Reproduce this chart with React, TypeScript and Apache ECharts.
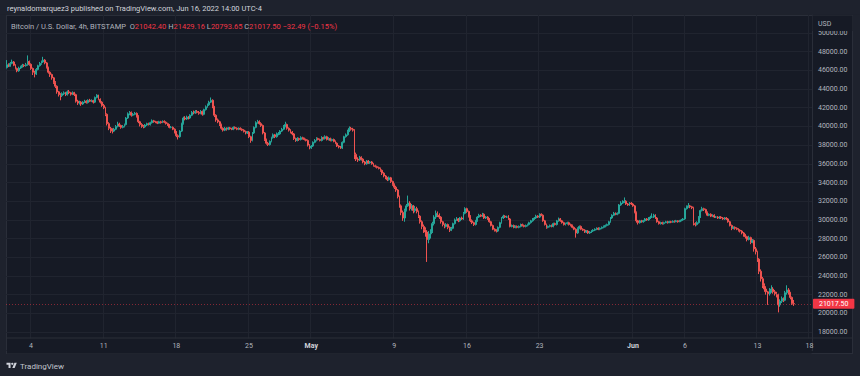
import React, { useEffect, useRef } from "react";
import * as echarts from "echarts";

// ---- Data (BTC/USD 4h, Bitstamp) ----
const firstOpen = 46300;
const lastOpen = 21042.4;
const startTime = "2022-04-01T16:00:00Z"; // first 4h candle
const slotCount = 466; // candle slots on the time axis (incl. empty future slots)

const closes = [
  46600, 46450,
  46750, 46900, 46550, 46200, 45950, 46250,
  46400, 46550, 46500, 46600, 46950, 46650,
  46200, 45800, 45600, 46100, 46500, 46750,
  46900, 47100, 46800, 46300, 45800, 45550,
  45200, 44700, 44300, 43700, 43400, 43300,
  43500, 43600, 43400, 43700, 43600, 43450,
  43600, 43400, 42700, 42500, 42600, 42400,
  42600, 42700, 42550, 42800, 42700, 42750,
  42600, 43100, 43350, 42900, 42600, 42250,
  42000, 41300, 40300, 39800, 39600, 39500,
  39700, 40000, 40250, 40100, 39900, 40000,
  40200, 40900, 41350, 41500, 41200, 41300,
  41400, 41100, 40500, 40200, 40000, 39950,
  40150, 40300, 40200, 40400, 40600, 40500,
  40450, 40350, 40500, 40400, 40550, 40450,
  40300, 40150, 39900, 39900, 39700, 39400,
  39000, 38900, 39500, 40300, 40900, 40800,
  41000, 40900, 41200, 41500, 41450, 41600,
  41500, 41400, 41600, 41300, 41800, 42100,
  42300, 42600, 42800, 42100, 41200, 40700,
  40500, 40200, 39800, 39600, 39800, 39700,
  39850, 39750, 39700, 39900, 39800, 39700,
  39800, 39700, 39600, 39450, 39300, 39400,
  38900, 38500, 39300, 39900, 40400, 40500,
  40300, 40100, 39300, 38600, 38200, 38050,
  38400, 38800, 39100, 38900, 39200, 39200,
  39500, 39700, 40000, 40200, 39800, 39600,
  39400, 39200, 38700, 38500, 38700, 38600,
  38800, 38700, 38600, 38500, 38000, 37700,
  37900, 38300, 38500, 38700, 38600, 38500,
  38800, 38700, 38900, 38600, 38700, 38500,
  38600, 38400, 38200, 37900, 37800, 37700,
  38300, 38900, 39100, 39500, 39800, 39700,
  39600, 37000, 36500, 36400, 36700, 36500,
  36200, 36000, 36300, 36100, 36200, 36000,
  35800, 35700, 35600, 35500, 35300, 35000,
  34700, 34500, 34300, 34500, 34100, 33800,
  33500, 33200, 32500, 31500, 30800, 30200,
  31000, 31500, 31800, 31200, 31500, 31000,
  31200, 30900, 30400, 29800, 29300, 29000,
  28700, 27900, 28500, 28800, 29600, 30300,
  30700, 30500, 30300, 29800, 29500, 29300,
  29500, 29200, 28900, 29100, 29600, 30000,
  30100, 29900, 30200, 30100, 30700, 31200,
  30900, 30400, 29900, 29700, 29500, 29900,
  30300, 30500, 30400, 30600, 30200, 30300,
  30100, 29800, 29400, 29000, 28900, 28800,
  29200, 29700, 30200, 30400, 30300, 30300,
  30100, 29300, 29400, 29200, 29300, 29200,
  29300, 29500, 29400, 29300, 29400, 29500,
  29700, 29900, 30100, 30200, 30400, 30300,
  30600, 30500, 29900, 29500, 29200, 29300,
  29400, 29300, 29600, 29500, 29900, 30100,
  29900, 29700, 29500, 29600, 29700, 29500,
  29400, 29200, 29000, 28600, 29100, 29300,
  29000, 28900, 28700, 28800, 28600, 28700,
  28800, 28900, 29000, 29100, 29000, 29100,
  29200, 29300, 29400, 29500, 29800, 30200,
  30500, 30700, 30600, 30700, 31600, 31800,
  31900, 32000, 31700, 31600, 31800, 31700,
  31500, 30800, 29900, 29700, 29900, 29800,
  29900, 30100, 30000, 30200, 30300, 30300,
  30500, 30200, 29800, 29600, 29700, 29600,
  29700, 29800, 29700, 29800, 29750, 29850,
  29800, 29900, 29800, 29900, 30000, 30100,
  31200, 31400, 31500, 31400, 31300, 29600,
  29500, 29700, 30300, 31000, 31200, 31100,
  30800, 30500, 30600, 30400, 30500, 30300,
  30300, 30200, 30300, 30200, 30100, 30200,
  30100, 29800, 29400, 29100, 29200, 29100,
  29000, 28900, 28800, 28600, 28400, 28200,
  27900, 28100, 27600, 27800, 26900, 26600,
  25800, 24500, 23700, 23000, 22600, 22300,
  22100, 22400, 22600, 22300, 22100, 22000,
  20900, 21300, 21600, 21400, 22200, 22500,
  22200, 21700, 21049.99, 21017.5,
];

const highs = [
  47100, 46750,
  46900, 47150, 47000, 46650, 46300, 46400,
  46500, 46700, 46650, 46800, 47600, 47050,
  46750, 46300, 45950, 46250, 46600, 46900,
  47050, 47450, 47200, 46900, 46400, 45900,
  45650, 45300, 44850, 44400, 43800, 43550,
  43650, 43750, 43700, 43850, 43900, 43700,
  43750, 43700, 43500, 42850, 42750, 42700,
  42700, 42850, 42800, 42900, 42950, 42900,
  42850, 43200, 43450, 43400, 43000, 42700,
  42400, 42100, 41400, 40450, 39950, 39800,
  39850, 40150, 40500, 40400, 40200, 40150,
  40300, 41000, 41500, 41650, 41600, 41450,
  41550, 41500, 41200, 40600, 40350, 40150,
  40250, 40400, 40400, 40500, 40750, 40700,
  40600, 40550, 40600, 40600, 40650, 40650,
  40550, 40400, 40250, 40050, 40000, 39800,
  39500, 39150, 39600, 40400, 41050, 41100,
  41150, 41100, 41300, 41650, 41700, 41750,
  41750, 41650, 41750, 41700, 41900, 42250,
  42450, 42750, 43100, 42900, 42200, 41300,
  40850, 40600, 40300, 39900, 39950, 39900,
  39950, 39950, 39850, 40000, 40000, 39900,
  39900, 39900, 39800, 39700, 39550, 39500,
  39500, 39000, 39400, 40000, 40550, 40700,
  40650, 40450, 40200, 39400, 38700, 38350,
  38500, 38900, 39250, 39200, 39350, 39400,
  39600, 39850, 40150, 40500, 40300, 39900,
  39700, 39500, 39300, 38800, 38850, 38800,
  38950, 38900, 38800, 38700, 38600, 38100,
  38000, 38400, 38650, 38850, 38800, 38700,
  38950, 38900, 39050, 39000, 38850, 38800,
  38700, 38700, 38500, 38300, 38000, 37900,
  38400, 39000, 39250, 39650, 40000, 39950,
  39850, 39700, 37200, 36700, 36850, 36800,
  36600, 36300, 36400, 36400, 36300, 36300,
  36100, 35900, 35800, 35700, 35600, 35400,
  35100, 34800, 34600, 34650, 34600, 34200,
  33900, 33650, 33300, 32600, 31650, 31000,
  31200, 31700, 32600, 32000, 31700, 31600,
  31500, 31400, 31000, 30500, 29950, 29500,
  29200, 28900, 28800, 29000, 29800, 30500,
  31000, 30900, 30700, 30400, 29900, 29600,
  29650, 29600, 29300, 29250, 29700, 30150,
  30300, 30200, 30300, 30350, 30850, 31350,
  31300, 31000, 30500, 30050, 29800, 30000,
  30400, 30650, 30600, 30750, 30700, 30400,
  30400, 30200, 29900, 29500, 29100, 29000,
  29300, 29800, 30300, 30550, 30500, 30450,
  30500, 30200, 29500, 29500, 29400, 29400,
  29400, 29600, 29600, 29500, 29500, 29600,
  29800, 30000, 30200, 30300, 30550, 30500,
  30700, 30700, 30600, 30000, 29600, 29400,
  29500, 29500, 29700, 29700, 30000, 30250,
  30200, 30000, 29800, 29700, 29800, 29800,
  29600, 29500, 29300, 29100, 29200, 29400,
  29400, 29100, 29000, 28900, 28900, 28800,
  28900, 29000, 29100, 29200, 29200, 29200,
  29300, 29400, 29500, 29600, 29900, 30300,
  30600, 30850, 30800, 30800, 31700, 32000,
  32100, 32400, 32100, 31800, 31900, 31900,
  31800, 31600, 30900, 30000, 30000, 30000,
  30000, 30200, 30200, 30300, 30450, 30700,
  30650, 30600, 30300, 29900, 29800, 29800,
  29800, 29900, 29900, 29900, 29900, 29950,
  29950, 30000, 29950, 30000, 30100, 30200,
  31300, 31550, 31800, 31600, 31500, 31400,
  29750, 29850, 30400, 31100, 31400, 31300,
  31200, 30900, 30700, 30700, 30600, 30600,
  30400, 30400, 30400, 30400, 30300, 30300,
  30300, 30200, 29900, 29500, 29300, 29300,
  29200, 29100, 29000, 28900, 28700, 28500,
  28300, 28300, 28200, 27950, 27900, 27100,
  26700, 25900, 24700, 23900, 23200, 22900,
  22400, 22700, 23000, 22800, 22500, 22300,
  22100, 21500, 21800, 21700, 22400, 23000,
  22700, 22300, 21800, 21429.16,
];

const lows = [
  46200, 46350,
  46400, 46650, 46450, 46100, 45800, 45850,
  46150, 46300, 46350, 46400, 46500, 46500,
  46050, 45500, 45250, 45500, 46000, 46400,
  46600, 46800, 46650, 46200, 45650, 45300,
  45000, 44550, 44100, 43500, 43200, 42800,
  43150, 43350, 43250, 43300, 43450, 43300,
  43350, 43250, 42550, 42300, 42350, 42200,
  42300, 42500, 42450, 42450, 42600, 42600,
  42450, 42500, 43000, 42800, 42450, 42100,
  41850, 41100, 40100, 39600, 39300, 39250,
  39400, 39600, 39900, 39950, 39750, 39800,
  39900, 40100, 40800, 41200, 41050, 41100,
  41200, 40950, 40350, 40000, 39850, 39800,
  39850, 40050, 40100, 40100, 40300, 40400,
  40350, 40250, 40300, 40300, 40350, 40350,
  40200, 40050, 39800, 39800, 39600, 39250,
  38850, 38600, 38800, 39400, 40200, 40650,
  40700, 40750, 40800, 41100, 41300, 41350,
  41400, 41250, 41300, 41150, 41200, 41700,
  42000, 42200, 42500, 41950, 41000, 40500,
  40350, 40050, 39650, 39450, 39500, 39550,
  39600, 39650, 39600, 39600, 39700, 39600,
  39600, 39600, 39500, 39350, 39150, 39200,
  38750, 38250, 38400, 39200, 39800, 40300,
  40200, 39950, 39150, 38450, 38050, 37900,
  37950, 38300, 38700, 38750, 38800, 39050,
  39100, 39400, 39600, 39900, 39650, 39450,
  39250, 39050, 38550, 38350, 38400, 38450,
  38500, 38600, 38500, 38400, 37850, 37550,
  37600, 37800, 38200, 38400, 38500, 38400,
  38400, 38600, 38600, 38500, 38500, 38400,
  38400, 38300, 38100, 37800, 37650, 37600,
  37600, 38200, 38800, 39000, 39400, 39550,
  39450, 36500, 36300, 36200, 36300, 36350,
  36050, 35850, 35900, 36000, 36000, 35900,
  35700, 35600, 35500, 35400, 35150, 34800,
  34550, 34350, 34150, 34200, 33950, 33650,
  33300, 33000, 32300, 31300, 30500, 29900,
  29800, 30900, 31400, 31000, 31000, 30700,
  30800, 30700, 30200, 29600, 29000, 28600,
  28200, 25500, 27500, 28000, 28600, 29400,
  30100, 30300, 30100, 29600, 29300, 29100,
  29200, 29000, 28700, 28800, 29000, 29500,
  29900, 29750, 29800, 30000, 30000, 30600,
  30750, 30250, 29750, 29550, 29350, 29400,
  29800, 30200, 30300, 30300, 30100, 30100,
  30000, 29700, 29300, 28900, 28750, 28650,
  28700, 29100, 29600, 30100, 30200, 30200,
  30000, 29200, 29200, 29100, 29100, 29100,
  29100, 29200, 29300, 29200, 29200, 29300,
  29400, 29600, 29800, 30000, 30100, 30200,
  30200, 30400, 29800, 29400, 29050, 29100,
  29200, 29200, 29200, 29400, 29400, 29800,
  29800, 29600, 29400, 29400, 29500, 29400,
  29300, 29100, 28900, 28100, 28500, 29000,
  28900, 28800, 28600, 28600, 28500, 28500,
  28600, 28700, 28800, 28900, 28900, 28900,
  29000, 29100, 29200, 29300, 29400, 29700,
  30100, 30400, 30500, 30500, 30600, 31500,
  31700, 31800, 31600, 31500, 31500, 31600,
  31400, 30700, 29700, 29500, 29600, 29700,
  29700, 29800, 29900, 29900, 30100, 30200,
  30200, 30100, 29700, 29500, 29500, 29500,
  29500, 29650, 29600, 29650, 29650, 29700,
  29700, 29750, 29700, 29750, 29850, 29900,
  30000, 31100, 31300, 31250, 31150, 29400,
  29300, 29400, 29600, 30200, 30900, 30950,
  30700, 30400, 30400, 30300, 30300, 30200,
  30200, 30100, 30100, 30100, 30000, 30000,
  30000, 29700, 29300, 28900, 29000, 28950,
  28900, 28750, 28650, 28450, 28200, 28000,
  27700, 27800, 27400, 27500, 26600, 26300,
  25500, 24200, 23400, 22700, 22300, 22000,
  20900, 21900, 22200, 22100, 21900, 21700,
  20100, 20700, 21100, 21200, 21300, 22000,
  22000, 21500, 20900, 20793.65,
];

// time-axis tick labels
const tickDates = [
  "2022-04-04", "2022-04-11", "2022-04-18", "2022-04-25", "2022-05-01", "2022-05-09",
  "2022-05-16", "2022-05-23", "2022-06-01", "2022-06-06", "2022-06-13", "2022-06-18",
];
const tickLabels = ["4", "11", "18", "25", "May", "9", "16", "23", "Jun", "6", "13", "18"];
const monthLabels = ["May", "Jun"];

// price axis
const priceMin = 16000;
const priceMax = 52000;
const priceStep = 2000;

const UP = "#26a69a";
const DOWN = "#ef5350";
const PANEL = "#161a25";
const PAGE = "#1e222d";
const GRIDC = "#20242f";
const BORDER = "#2a2e39";
const TXT = "#b2b5be";
const FONT = "Roboto, 'Noto Sans', sans-serif";

function pad(n: number) {
  return n < 10 ? "0" + n : "" + n;
}

const TV_LOGO =
  "M14 22H7V11H0V4h14v18zM28 22h-8l7.5-18h8L28 22zM24 8a4 4 0 1 1-8 0a4 4 0 1 1 8 0z";
let logoRegistered = false;

export default function App() {
  const ref = useRef<HTMLDivElement>(null);

  useEffect(() => {
    if (!ref.current) return;
    if (!logoRegistered) {
      echarts.graphic.registerShape("tvlogo", echarts.graphic.extendPath(TV_LOGO, {}) as any);
      logoRegistered = true;
    }
    const chart = echarts.init(ref.current, null, { renderer: "svg" });

    // categories (4h slots)
    const t0 = new Date(startTime).getTime();
    const cats: string[] = [];
    for (let i = 0; i < slotCount; i++) {
      const d = new Date(t0 + i * 4 * 3600 * 1000);
      cats.push(
        `${d.getUTCFullYear()}-${pad(d.getUTCMonth() + 1)}-${pad(d.getUTCDate())} ${pad(d.getUTCHours())}:00`
      );
    }
    const tickMap = new Map<string, string>();
    tickDates.forEach((dt, k) => tickMap.set(dt + " 00:00", tickLabels[k]));
    const tickIdx = new Set<number>();
    cats.forEach((c, i) => {
      if (tickMap.has(c)) tickIdx.add(i);
    });

    const n = closes.length;
    const data = closes.map((c, i) => {
      const o = i === 0 ? firstOpen : i === n - 1 ? lastOpen : closes[i - 1];
      return [o, c, lows[i], highs[i]];
    });
    const last = data[n - 1];
    const lastClose = closes[n - 1];
    const change = lastClose - closes[n - 2];
    const pct = (change / closes[n - 2]) * 100;
    const sgn = (v: number) => (v < 0 ? "\u2212" + Math.abs(v).toFixed(2) : "+" + v.toFixed(2));

    const headerText =
      `{g|Bitcoin / U.S. Dollar, 4h, BITSTAMP}  {g|O}{r|${last[0].toFixed(2)}} {g|H}{r|${last[3].toFixed(2)}} ` +
      `{g|L}{r|${last[2].toFixed(2)}} {g|C}{r|${last[1].toFixed(2)}} {r|${sgn(change)} (${sgn(pct)}%)}`;

    chart.setOption({
      animation: false,
      backgroundColor: "transparent",
      textStyle: { fontFamily: FONT },
      grid: { left: 6, right: 48, top: 14.3, height: 336.4 },
      xAxis: [
        {
          type: "category",
          data: cats,
          boundaryGap: true,
          axisLine: { show: false },
          axisTick: { show: false },
          axisLabel: { show: false },
          splitLine: {
            show: true,
            interval: (i: number) => tickIdx.has(i),
            lineStyle: { color: GRIDC, width: 1 },
          },
          z: 0,
        },
        {
          type: "category",
          data: cats,
          boundaryGap: true,
          position: "bottom",
          offset: -13,
          axisLine: { show: false },
          axisTick: { show: false },
          splitLine: { show: false },
          axisLabel: {
            show: true,
            interval: (i: number) => tickIdx.has(i),
            formatter: (v: string) => {
              const l = tickMap.get(v) || "";
              return monthLabels.includes(l) ? `{m|${l}}` : l;
            },
            color: TXT,
            fontSize: 7,
            margin: 5,
            fontFamily: FONT,
            rich: { m: { fontWeight: "bold", color: "#d1d4dc", fontSize: 7, fontFamily: FONT } },
          },
          z: 5,
        },
      ],
      yAxis: {
        type: "value",
        position: "right",
        min: priceMin,
        max: priceMax,
        interval: priceStep,
        axisLine: { show: true, lineStyle: { color: BORDER } },
        axisTick: { show: false },
        axisLabel: {
          color: TXT,
          fontSize: 7,
          margin: 6,
          fontFamily: FONT,
          formatter: (v: number) => (v === priceMin || v === priceMax ? "" : v.toFixed(2)),
        },
        splitLine: { show: true, lineStyle: { color: GRIDC, width: 1 } },
      },
      series: [
        {
          type: "candlestick",
          data,
          xAxisIndex: 0,
          barWidth: 1.4,
          itemStyle: {
            color: UP,
            color0: DOWN,
            borderColor: UP,
            borderColor0: DOWN,
            borderWidth: 1,
          },
          markLine: {
            silent: true,
            symbol: ["none", "none"],
            animation: false,
            data: [{ yAxis: lastClose }],
            lineStyle: { color: "rgba(242,54,69,0.5)", type: [1, 2], width: 1 },
            label: {
              show: true,
              position: "end",
              distance: 1,
              formatter: lastClose.toFixed(2),
              backgroundColor: "#f23645",
              color: "#ffffff",
              fontSize: 7,
              fontFamily: FONT,
              padding: [2, 6, 1, 6],
              borderRadius: 1,
            },
          },
        },
      ],
      graphic: [
        // header band above panel
        { type: "rect", z: 1, silent: true, shape: { x: 0, y: 0, width: 860, height: 14.8 }, style: { fill: PAGE } },
        // time axis band
        { type: "rect", z: 1, silent: true, shape: { x: 7, y: 338.5, width: 804.5, height: 15 }, style: { fill: PANEL } },
        { type: "line", z: 2, silent: true, shape: { x1: 6, y1: 338, x2: 853, y2: 338 }, style: { stroke: BORDER, lineWidth: 1 } },
        // USD box on price axis
        { type: "rect", z: 6, silent: true, shape: { x: 812.5, y: 15.5, width: 40, height: 15.5 }, style: { fill: PANEL } },
        { type: "text", z: 7, silent: true, x: 818, y: 24, style: { text: "USD", fill: TXT, fontSize: 7, fontFamily: FONT, verticalAlign: "middle" } },
        // publisher line
        {
          type: "text", z: 10, silent: true, x: 7, y: 8,
          style: {
            text: "reynaldomarquez3 published on TradingView.com, Jun 16, 2022 14:00 UTC-4",
            fill: "#d1d4dc", fontSize: 7.5, fontFamily: FONT, verticalAlign: "middle",
          },
        },
        // symbol line
        {
          type: "text", z: 10, silent: true, x: 11, y: 26,
          style: {
            text: headerText,
            fontSize: 7.5, fontFamily: FONT, verticalAlign: "middle",
            rich: {
              g: { fill: TXT, fontSize: 7.5, fontFamily: FONT },
              r: { fill: "#f23645", fontSize: 7.5, fontFamily: FONT },
            },
          },
        },
        // footer logo + text
        { type: "tvlogo", z: 10, silent: true, x: 6.5, y: 361.5, scaleX: 0.29, scaleY: 0.29, style: { fill: "#d1d4dc" } },
        {
          type: "text", z: 10, silent: true, x: 20, y: 366,
          style: { text: "TradingView", fill: "#c2c5ce", fontSize: 8, fontFamily: FONT, verticalAlign: "middle" },
        },
      ],
    });
    return () => chart.dispose();
  }, []);

  return (
    <div style={{ position: "fixed", left: 0, top: 0, width: 860, height: 376, background: PAGE, overflow: "hidden" }}>
      <div
        style={{
          position: "absolute", left: 6, top: 15, width: 847, height: 339,
          background: PANEL, border: `1px solid ${BORDER}`, boxSizing: "border-box",
        }}
      />
      <div ref={ref} style={{ position: "absolute", left: 0, top: 0, width: 860, height: 376 }} />
    </div>
  );
}
